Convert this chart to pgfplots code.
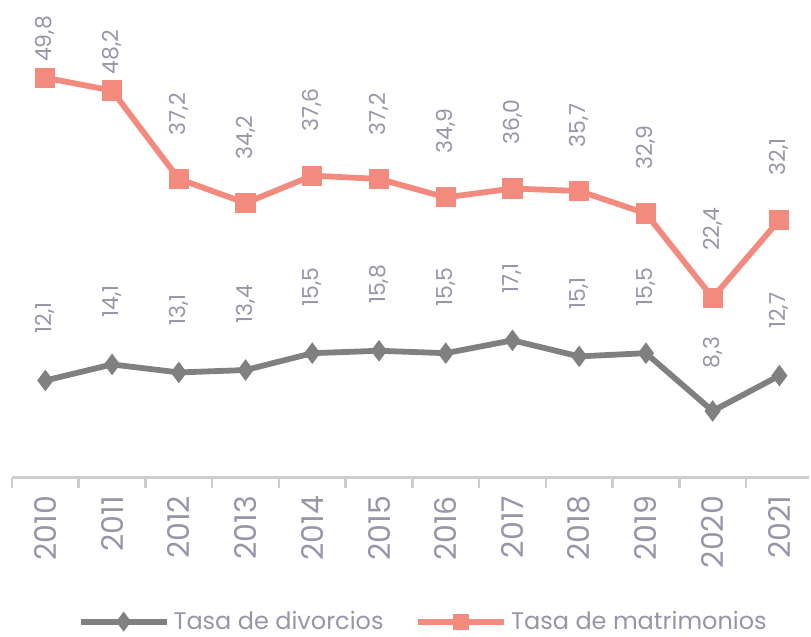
\documentclass[border=0pt]{standalone}
\usepackage{pgfplots}
\pgfplotsset{compat=1.18}
\usepackage{pgfplotstable}
\usepackage{fontspec}
\setmainfont{Poppins}[Numbers=Monospaced]
\definecolor{divc}{RGB}{128,128,128}
\definecolor{matc}{RGB}{242,138,126}
\definecolor{txtc}{RGB}{150,150,168}
\definecolor{axc}{RGB}{205,205,205}

\pgfplotstableread{
x val off
0 12.1 22
1 14.1 22
2 13.1 22
3 13.4 22
4 15.5 22
5 15.8 22
6 15.5 22
7 17.1 22
8 15.1 22
9 15.5 22
10 8.3 20
11 12.7 22
}\divdata

\pgfplotstableread{
x val off
0 49.8 6.5
1 48.2 6.5
2 37.2 20.5
3 34.2 20.5
4 37.6 20.5
5 37.2 20.5
6 34.9 20.5
7 36.0 20.5
8 35.7 20.5
9 32.9 20.5
10 22.4 22
11 32.1 21
}\matdata

\begin{document}
\begin{tikzpicture}
\begin{axis}[
  scale only axis,
  width=399pt, height=221pt,
  xmin=-0.5, xmax=11.45,
  ymin=0, ymax=55,
  clip=false,
  axis x line*=bottom,
  axis y line=none,
  axis line style={axc, line width=1.6pt, -},
  xtick={-0.5,0.5,...,10.5},
  xticklabels={},
  xticklabel style={inner sep=0pt},
  tick align=outside,
  major tick length=5pt,
  major x tick style={draw=axc, line width=1.3pt},
  extra x ticks={0,...,11},
  extra x tick labels={2010,2011,2012,2013,2014,2015,2016,2017,2018,2019,2020,2021},
  extra x tick style={major tick length=0pt, major x tick style={draw=none},
    xticklabel style={rotate=90, anchor=east, inner sep=0pt, font=\fontsize{15}{17}\selectfont, text=txtc, xshift=-9pt}},
  /pgf/number format/assume math mode=true,
  /pgf/number format/.cd, fixed, fixed zerofill, precision=1, use comma, /pgfplots/.cd,
  legend columns=2,
  legend style={at={(0.517,-0.326)}, anchor=center, draw=none, inner sep=0pt, font=\fontsize{12}{14}\selectfont, text=txtc,
    /tikz/every even column/.append style={column sep=14pt}},
  legend image code/.code={
    \draw[#1, mark=none] (0pt,0pt) -- (43pt,0pt);
    \draw[#1, only marks, mark size=2.6pt] plot coordinates {(21.5pt,0pt)};
  },
  visualization depends on={\thisrow{off} \as \myoff},
  nodes near coords,
  every node near coord/.style={yshift=\myoff pt, rotate=90, anchor=west, inner sep=0pt, font=\fontsize{11}{13}\selectfont, text=txtc},
]
\addplot[divc, line width=2.9pt, mark=diamond*, mark size=3pt, mark options={solid}] table[x=x, y=val] {\divdata};
\addlegendentry{Tasa de divorcios}
\addplot[matc, line width=2.9pt, mark=square*, mark size=3.6pt, mark options={solid}] table[x=x, y=val] {\matdata};
\addlegendentry{Tasa de matrimonios}
\end{axis}
\path (current axis.north west) ++(-6pt,18pt);
\path (current axis.south west) ++(-6pt,-75pt);
\end{tikzpicture}
\end{document}
